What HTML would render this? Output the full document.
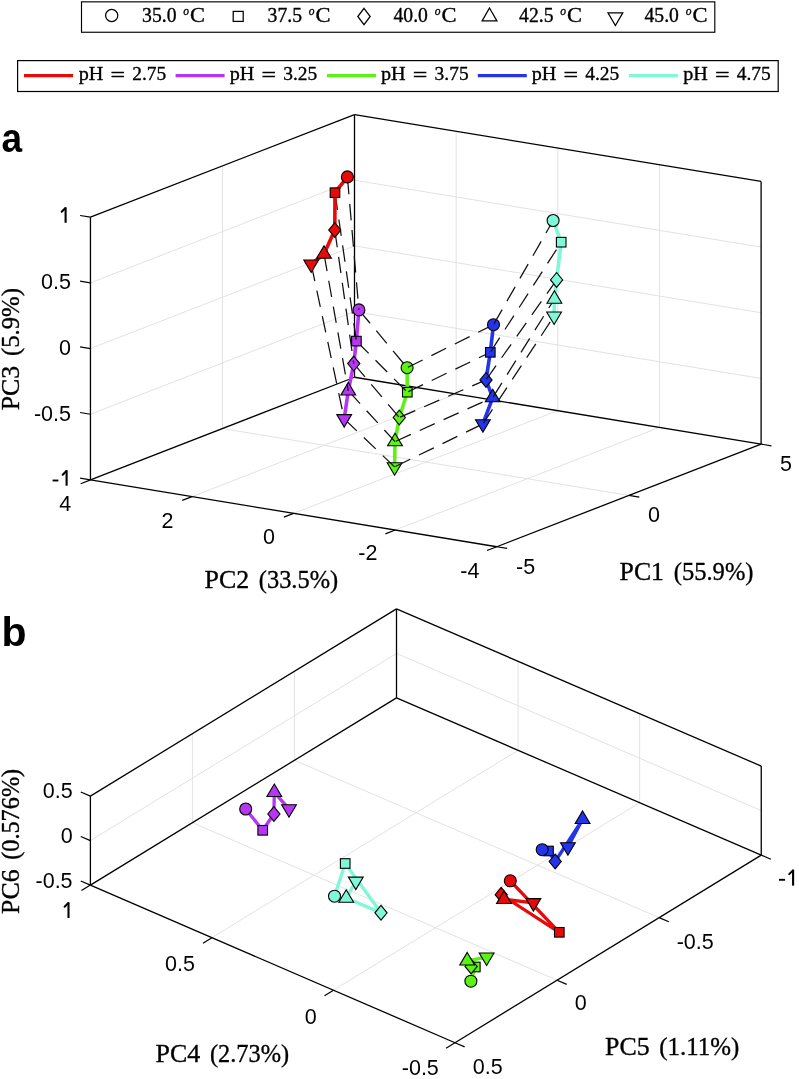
<!DOCTYPE html>
<html><head><meta charset="utf-8"><title>PCA figure</title>
<style>html,body{margin:0;padding:0;background:#fff;}body{width:799px;height:1079px;overflow:hidden;}svg{display:block;will-change:transform;}</style>
</head><body>
<svg width="799" height="1079" viewBox="0 0 799 1079">
<rect width="799" height="1079" fill="#fff"/>
<rect x="81.5" y="1.85" width="633.3" height="30.4" fill="#fff" stroke="#000" stroke-width="1.15"/>
<circle cx="111.7" cy="15.5" r="6.1" fill="none" stroke="#000" stroke-width="1.25"/>
<rect x="233.2" y="11.4" width="10" height="10" fill="none" stroke="#000" stroke-width="1.25"/>
<polygon points="364,8.4 370.2,16.5 364,24.6 357.8,16.5" fill="none" stroke="#000" stroke-width="1.25"/>
<polygon points="489.5,8.0 496.9,20.9 482.1,20.9" fill="none" stroke="#000" stroke-width="1.25"/>
<polygon points="608.0,12.9 622.8,12.9 615.4,25.6" fill="none" stroke="#000" stroke-width="1.25"/>
<text x="142.1" y="21.6" font-size="20" font-family='"Liberation Serif", serif' textLength="34.4" lengthAdjust="spacingAndGlyphs" stroke="#000" stroke-width="0.35">35.0</text>
<text x="183.3" y="14.9" font-size="11.5" font-style="italic" font-family='"Liberation Serif", serif' stroke="#000" stroke-width="0.3">o</text>
<text x="190.1" y="21.6" font-size="20" font-family='"Liberation Serif", serif' textLength="15" lengthAdjust="spacingAndGlyphs" stroke="#000" stroke-width="0.35">C</text>
<text x="267.6" y="21.6" font-size="20" font-family='"Liberation Serif", serif' textLength="34.4" lengthAdjust="spacingAndGlyphs" stroke="#000" stroke-width="0.35">37.5</text>
<text x="308.8" y="14.9" font-size="11.5" font-style="italic" font-family='"Liberation Serif", serif' stroke="#000" stroke-width="0.3">o</text>
<text x="315.6" y="21.6" font-size="20" font-family='"Liberation Serif", serif' textLength="15" lengthAdjust="spacingAndGlyphs" stroke="#000" stroke-width="0.35">C</text>
<text x="393.5" y="21.6" font-size="20" font-family='"Liberation Serif", serif' textLength="34.4" lengthAdjust="spacingAndGlyphs" stroke="#000" stroke-width="0.35">40.0</text>
<text x="434.7" y="14.9" font-size="11.5" font-style="italic" font-family='"Liberation Serif", serif' stroke="#000" stroke-width="0.3">o</text>
<text x="441.5" y="21.6" font-size="20" font-family='"Liberation Serif", serif' textLength="15" lengthAdjust="spacingAndGlyphs" stroke="#000" stroke-width="0.35">C</text>
<text x="519.1" y="21.6" font-size="20" font-family='"Liberation Serif", serif' textLength="34.4" lengthAdjust="spacingAndGlyphs" stroke="#000" stroke-width="0.35">42.5</text>
<text x="560.3" y="14.9" font-size="11.5" font-style="italic" font-family='"Liberation Serif", serif' stroke="#000" stroke-width="0.3">o</text>
<text x="567.1" y="21.6" font-size="20" font-family='"Liberation Serif", serif' textLength="15" lengthAdjust="spacingAndGlyphs" stroke="#000" stroke-width="0.35">C</text>
<text x="644.5" y="21.6" font-size="20" font-family='"Liberation Serif", serif' textLength="34.4" lengthAdjust="spacingAndGlyphs" stroke="#000" stroke-width="0.35">45.0</text>
<text x="685.7" y="14.9" font-size="11.5" font-style="italic" font-family='"Liberation Serif", serif' stroke="#000" stroke-width="0.3">o</text>
<text x="692.5" y="21.6" font-size="20" font-family='"Liberation Serif", serif' textLength="15" lengthAdjust="spacingAndGlyphs" stroke="#000" stroke-width="0.35">C</text>
<rect x="17.6" y="60.6" width="760.6" height="30.9" fill="#fff" stroke="#000" stroke-width="1.2"/>
<line x1="24" y1="75.6" x2="73" y2="75.6" stroke="#e80909" stroke-width="3.3"/>
<text x="78.7" y="80.4" font-size="19.2" font-family='"Liberation Serif", serif' textLength="24.6" lengthAdjust="spacingAndGlyphs" stroke="#000" stroke-width="0.35">pH</text>
<text x="110.5" y="81.3" font-size="19.2" font-family='"Liberation Serif", serif' textLength="14.6" lengthAdjust="spacingAndGlyphs" stroke="#000" stroke-width="0.35">=</text>
<text x="132.3" y="80.4" font-size="19.2" font-family='"Liberation Serif", serif' textLength="34" lengthAdjust="spacingAndGlyphs" stroke="#000" stroke-width="0.35">2.75</text>
<line x1="175.6" y1="75.6" x2="224.6" y2="75.6" stroke="#b636f4" stroke-width="3.3"/>
<text x="229.7" y="80.4" font-size="19.2" font-family='"Liberation Serif", serif' textLength="24.6" lengthAdjust="spacingAndGlyphs" stroke="#000" stroke-width="0.35">pH</text>
<text x="261.5" y="81.3" font-size="19.2" font-family='"Liberation Serif", serif' textLength="14.6" lengthAdjust="spacingAndGlyphs" stroke="#000" stroke-width="0.35">=</text>
<text x="283.3" y="80.4" font-size="19.2" font-family='"Liberation Serif", serif' textLength="34" lengthAdjust="spacingAndGlyphs" stroke="#000" stroke-width="0.35">3.25</text>
<line x1="327" y1="75.6" x2="376" y2="75.6" stroke="#5cf216" stroke-width="3.3"/>
<text x="381" y="80.4" font-size="19.2" font-family='"Liberation Serif", serif' textLength="24.6" lengthAdjust="spacingAndGlyphs" stroke="#000" stroke-width="0.35">pH</text>
<text x="412.8" y="81.3" font-size="19.2" font-family='"Liberation Serif", serif' textLength="14.6" lengthAdjust="spacingAndGlyphs" stroke="#000" stroke-width="0.35">=</text>
<text x="434.6" y="80.4" font-size="19.2" font-family='"Liberation Serif", serif' textLength="34" lengthAdjust="spacingAndGlyphs" stroke="#000" stroke-width="0.35">3.75</text>
<line x1="477.8" y1="75.6" x2="526.8" y2="75.6" stroke="#2334ea" stroke-width="3.3"/>
<text x="531.7" y="80.4" font-size="19.2" font-family='"Liberation Serif", serif' textLength="24.6" lengthAdjust="spacingAndGlyphs" stroke="#000" stroke-width="0.35">pH</text>
<text x="563.5" y="81.3" font-size="19.2" font-family='"Liberation Serif", serif' textLength="14.6" lengthAdjust="spacingAndGlyphs" stroke="#000" stroke-width="0.35">=</text>
<text x="585.3" y="80.4" font-size="19.2" font-family='"Liberation Serif", serif' textLength="34" lengthAdjust="spacingAndGlyphs" stroke="#000" stroke-width="0.35">4.25</text>
<line x1="628.9" y1="75.6" x2="677.9" y2="75.6" stroke="#7ff8d8" stroke-width="3.3"/>
<text x="683.2" y="80.4" font-size="19.2" font-family='"Liberation Serif", serif' textLength="24.6" lengthAdjust="spacingAndGlyphs" stroke="#000" stroke-width="0.35">pH</text>
<text x="715" y="81.3" font-size="19.2" font-family='"Liberation Serif", serif' textLength="14.6" lengthAdjust="spacingAndGlyphs" stroke="#000" stroke-width="0.35">=</text>
<text x="736.8" y="80.4" font-size="19.2" font-family='"Liberation Serif", serif' textLength="34" lengthAdjust="spacingAndGlyphs" stroke="#000" stroke-width="0.35">4.75</text>
<line x1="628.95" y1="495.43" x2="222.47" y2="428.57" stroke="#e2e2e2" stroke-width="1.0"/>
<line x1="192.04" y1="496.61" x2="456.15" y2="393.96" stroke="#e2e2e2" stroke-width="1.0"/>
<line x1="293.62" y1="513.33" x2="557.8" y2="410.68" stroke="#e2e2e2" stroke-width="1.0"/>
<line x1="395.21" y1="530.04" x2="659.45" y2="427.39" stroke="#e2e2e2" stroke-width="1.0"/>
<line x1="222.47" y1="428.57" x2="222.47" y2="165.88" stroke="#e2e2e2" stroke-width="1.0"/>
<line x1="90.45" y1="414.22" x2="354.5" y2="311.57" stroke="#e2e2e2" stroke-width="1.0"/>
<line x1="90.45" y1="348.55" x2="354.5" y2="245.9" stroke="#e2e2e2" stroke-width="1.0"/>
<line x1="90.45" y1="282.88" x2="354.5" y2="180.23" stroke="#e2e2e2" stroke-width="1.0"/>
<line x1="456.15" y1="393.96" x2="456.15" y2="131.26" stroke="#e2e2e2" stroke-width="1.0"/>
<line x1="557.8" y1="410.68" x2="557.8" y2="147.98" stroke="#e2e2e2" stroke-width="1.0"/>
<line x1="659.45" y1="427.39" x2="659.45" y2="164.69" stroke="#e2e2e2" stroke-width="1.0"/>
<line x1="761.1" y1="378.43" x2="354.5" y2="311.57" stroke="#e2e2e2" stroke-width="1.0"/>
<line x1="761.1" y1="312.75" x2="354.5" y2="245.9" stroke="#e2e2e2" stroke-width="1.0"/>
<line x1="761.1" y1="247.08" x2="354.5" y2="180.23" stroke="#e2e2e2" stroke-width="1.0"/>
<line x1="90.45" y1="479.9" x2="90.45" y2="217.2" stroke="#000" stroke-width="1.3"/>
<line x1="354.5" y1="377.25" x2="354.5" y2="114.55" stroke="#000" stroke-width="1.3"/>
<line x1="761.1" y1="444.1" x2="761.1" y2="181.4" stroke="#000" stroke-width="1.3"/>
<line x1="90.45" y1="217.2" x2="354.5" y2="114.55" stroke="#000" stroke-width="1.3"/>
<line x1="354.5" y1="114.55" x2="761.1" y2="181.4" stroke="#000" stroke-width="1.3"/>
<line x1="90.45" y1="479.9" x2="354.5" y2="377.25" stroke="#000" stroke-width="1.3"/>
<line x1="354.5" y1="377.25" x2="761.1" y2="444.1" stroke="#000" stroke-width="1.3"/>
<line x1="90.45" y1="479.9" x2="496.8" y2="546.75" stroke="#000" stroke-width="1.3"/>
<line x1="496.8" y1="546.75" x2="761.1" y2="444.1" stroke="#000" stroke-width="1.3"/>
<line x1="90.45" y1="479.9" x2="80.09" y2="478.2" stroke="#000" stroke-width="1.2"/>
<line x1="90.45" y1="414.22" x2="80.09" y2="412.52" stroke="#000" stroke-width="1.2"/>
<line x1="90.45" y1="348.55" x2="80.09" y2="346.85" stroke="#000" stroke-width="1.2"/>
<line x1="90.45" y1="282.88" x2="80.09" y2="281.17" stroke="#000" stroke-width="1.2"/>
<line x1="90.45" y1="217.2" x2="80.09" y2="215.5" stroke="#000" stroke-width="1.2"/>
<line x1="90.45" y1="479.9" x2="80.66" y2="483.7" stroke="#000" stroke-width="1.2"/>
<line x1="192.04" y1="496.61" x2="182.25" y2="500.41" stroke="#000" stroke-width="1.2"/>
<line x1="293.62" y1="513.33" x2="283.84" y2="517.13" stroke="#000" stroke-width="1.2"/>
<line x1="395.21" y1="530.04" x2="385.42" y2="533.84" stroke="#000" stroke-width="1.2"/>
<line x1="496.8" y1="546.75" x2="487.01" y2="550.55" stroke="#000" stroke-width="1.2"/>
<line x1="496.8" y1="546.75" x2="507.16" y2="548.45" stroke="#000" stroke-width="1.2"/>
<line x1="628.95" y1="495.43" x2="639.31" y2="497.13" stroke="#000" stroke-width="1.2"/>
<line x1="761.1" y1="444.1" x2="771.46" y2="445.8" stroke="#000" stroke-width="1.2"/>
<text x="71" y="289.18" font-size="21.5" font-family='"Liberation Sans", sans-serif' text-anchor="end">0.5</text>
<text x="71" y="354.85" font-size="21.5" font-family='"Liberation Sans", sans-serif' text-anchor="end">0</text>
<text x="71" y="420.52" font-size="21.5" font-family='"Liberation Sans", sans-serif' text-anchor="end">-0.5</text>
<line x1="65.6" y1="207.3" x2="65.6" y2="222.8" stroke="#000" stroke-width="2.1"/>
<line x1="65.2" y1="208.3" x2="61.7" y2="211.8" stroke="#000" stroke-width="2.0" stroke-linecap="round"/>
<line x1="66.6" y1="470.2" x2="66.6" y2="485.7" stroke="#000" stroke-width="2.1"/>
<line x1="66.2" y1="471.2" x2="62.7" y2="474.7" stroke="#000" stroke-width="2.0" stroke-linecap="round"/>
<line x1="52.6" y1="480.5" x2="58.4" y2="480.5" stroke="#000" stroke-width="1.9"/>
<text x="65.2" y="510.7" font-size="21.5" font-family='"Liberation Sans", sans-serif' text-anchor="middle">4</text>
<text x="167.4" y="527.5" font-size="21.5" font-family='"Liberation Sans", sans-serif' text-anchor="middle">2</text>
<text x="269.1" y="543.7" font-size="21.5" font-family='"Liberation Sans", sans-serif' text-anchor="middle">0</text>
<text x="367.9" y="560.3" font-size="21.5" font-family='"Liberation Sans", sans-serif' text-anchor="middle">-2</text>
<text x="469.8" y="577.8" font-size="21.5" font-family='"Liberation Sans", sans-serif' text-anchor="middle">-4</text>
<text x="525.6" y="574.1" font-size="21.5" font-family='"Liberation Sans", sans-serif' text-anchor="middle">-5</text>
<text x="654" y="521.8" font-size="21.5" font-family='"Liberation Sans", sans-serif' text-anchor="middle">0</text>
<text x="786" y="470.6" font-size="21.5" font-family='"Liberation Sans", sans-serif' text-anchor="middle">5</text>
<text x="204.6" y="588.4" font-size="25.5" font-family='"Liberation Serif", serif' textLength="44.6" lengthAdjust="spacingAndGlyphs" stroke="#000" stroke-width="0.35">PC2</text>
<text x="258.8" y="588.4" font-size="25.5" font-family='"Liberation Serif", serif' textLength="79.3" lengthAdjust="spacingAndGlyphs" stroke="#000" stroke-width="0.35">(33.5%)</text>
<text x="619.6" y="579.5" font-size="25.5" font-family='"Liberation Serif", serif' textLength="44.4" lengthAdjust="spacingAndGlyphs" stroke="#000" stroke-width="0.35">PC1</text>
<text x="673.8" y="579.5" font-size="25.5" font-family='"Liberation Serif", serif' textLength="79.7" lengthAdjust="spacingAndGlyphs" stroke="#000" stroke-width="0.35">(55.9%)</text>
<g transform="translate(18.8,409.9) rotate(-90)">
<text x="-0.4" y="0" font-size="25.5" font-family='"Liberation Serif", serif' textLength="44.6" lengthAdjust="spacingAndGlyphs" stroke="#000" stroke-width="0.35">PC3</text>
<text x="53.8" y="0" font-size="25.5" font-family='"Liberation Serif", serif' textLength="68" lengthAdjust="spacingAndGlyphs" stroke="#000" stroke-width="0.35">(5.9%)</text>
</g>
<text x="1.4" y="151.9" font-size="41" font-family='"Liberation Sans", sans-serif' font-weight="bold" textLength="20.6" lengthAdjust="spacingAndGlyphs">a</text>
<polyline points="407.1,367.7 407.3,392.2 399.3,417.5 395,441.58 394.6,466.92" fill="none" stroke="#5cf216" stroke-width="3.6" stroke-linejoin="round"/>
<circle cx="407.1" cy="367.7" r="6" fill="#5cf216" stroke="#000" stroke-width="1.1"/>
<rect x="402.5" y="387.4" width="9.6" height="9.6" fill="#5cf216" stroke="#000" stroke-width="1.1"/>
<polygon points="399.3,410.1 405.4,417.5 399.3,424.9 393.2,417.5" fill="#5cf216" stroke="#000" stroke-width="1.1"/>
<polygon points="395,433.25 402.4,445.75 387.6,445.75" fill="#5cf216" stroke="#000" stroke-width="1.1"/>
<polygon points="387.2,462.75 402,462.75 394.6,475.25" fill="#5cf216" stroke="#000" stroke-width="1.1"/>
<line x1="358.9" y1="309.9" x2="407.1" y2="367.7" stroke="#111" stroke-width="1.25" stroke-dasharray="16.5 9.7" stroke-dashoffset="-0.9"/>
<line x1="356.4" y1="341.1" x2="407.3" y2="392.2" stroke="#111" stroke-width="1.25" stroke-dasharray="16.5 9.7" stroke-dashoffset="-0.9"/>
<line x1="353.75" y1="363.6" x2="399.3" y2="417.5" stroke="#111" stroke-width="1.25" stroke-dasharray="16.5 9.7" stroke-dashoffset="-0.9"/>
<line x1="348.3" y1="390.78" x2="395" y2="441.58" stroke="#111" stroke-width="1.25" stroke-dasharray="16.5 9.7" stroke-dashoffset="-0.9"/>
<line x1="344.2" y1="418.82" x2="394.6" y2="466.92" stroke="#111" stroke-width="1.25" stroke-dasharray="16.5 9.7" stroke-dashoffset="-0.9"/>
<line x1="407.1" y1="367.7" x2="493.5" y2="324.7" stroke="#111" stroke-width="1.25" stroke-dasharray="16.5 9.7" stroke-dashoffset="-0.9"/>
<line x1="407.3" y1="392.2" x2="490.3" y2="352.3" stroke="#111" stroke-width="1.25" stroke-dasharray="16.5 9.7" stroke-dashoffset="-0.9"/>
<line x1="399.3" y1="417.5" x2="486" y2="379.9" stroke="#111" stroke-width="1.25" stroke-dasharray="16.5 9.7" stroke-dashoffset="-0.9"/>
<line x1="395" y1="441.58" x2="492.7" y2="397.58" stroke="#111" stroke-width="1.25" stroke-dasharray="16.5 9.7" stroke-dashoffset="-0.9"/>
<line x1="394.6" y1="466.92" x2="482.9" y2="423.92" stroke="#111" stroke-width="1.25" stroke-dasharray="16.5 9.7" stroke-dashoffset="-0.9"/>
<polyline points="493.5,324.7 490.3,352.3 486,379.9 492.7,397.58 482.9,423.92" fill="none" stroke="#2334ea" stroke-width="3.6" stroke-linejoin="round"/>
<circle cx="493.5" cy="324.7" r="6" fill="#2334ea" stroke="#000" stroke-width="1.1"/>
<rect x="485.5" y="347.5" width="9.6" height="9.6" fill="#2334ea" stroke="#000" stroke-width="1.1"/>
<polygon points="486,372.5 492.1,379.9 486,387.3 479.9,379.9" fill="#2334ea" stroke="#000" stroke-width="1.1"/>
<polygon points="492.7,389.25 500.1,401.75 485.3,401.75" fill="#2334ea" stroke="#000" stroke-width="1.1"/>
<polygon points="475.5,419.75 490.3,419.75 482.9,432.25" fill="#2334ea" stroke="#000" stroke-width="1.1"/>
<line x1="493.5" y1="324.7" x2="553.1" y2="220.5" stroke="#111" stroke-width="1.25" stroke-dasharray="16.5 9.7" stroke-dashoffset="-0.9"/>
<line x1="490.3" y1="352.3" x2="561.2" y2="242.2" stroke="#111" stroke-width="1.25" stroke-dasharray="16.5 9.7" stroke-dashoffset="-0.9"/>
<line x1="486" y1="379.9" x2="556.6" y2="279.9" stroke="#111" stroke-width="1.25" stroke-dasharray="16.5 9.7" stroke-dashoffset="-0.9"/>
<line x1="492.7" y1="397.58" x2="554.4" y2="299.08" stroke="#111" stroke-width="1.25" stroke-dasharray="16.5 9.7" stroke-dashoffset="-0.9"/>
<line x1="482.9" y1="423.92" x2="554.1" y2="316.12" stroke="#111" stroke-width="1.25" stroke-dasharray="16.5 9.7" stroke-dashoffset="-0.9"/>
<polyline points="358.9,309.9 356.4,341.1 353.75,363.6 348.3,390.78 344.2,418.82" fill="none" stroke="#b636f4" stroke-width="3.6" stroke-linejoin="round"/>
<circle cx="358.9" cy="309.9" r="6" fill="#b636f4" stroke="#000" stroke-width="1.1"/>
<rect x="351.6" y="336.3" width="9.6" height="9.6" fill="#b636f4" stroke="#000" stroke-width="1.1"/>
<polygon points="353.75,356.2 359.85,363.6 353.75,371 347.65,363.6" fill="#b636f4" stroke="#000" stroke-width="1.1"/>
<polygon points="348.3,382.45 355.7,394.95 340.9,394.95" fill="#b636f4" stroke="#000" stroke-width="1.1"/>
<polygon points="336.8,414.65 351.6,414.65 344.2,427.15" fill="#b636f4" stroke="#000" stroke-width="1.1"/>
<line x1="347.4" y1="176.9" x2="358.9" y2="309.9" stroke="#111" stroke-width="1.25" stroke-dasharray="16.5 9.7" stroke-dashoffset="-0.9"/>
<line x1="335" y1="192.7" x2="356.4" y2="341.1" stroke="#111" stroke-width="1.25" stroke-dasharray="16.5 9.7" stroke-dashoffset="-0.9"/>
<line x1="334.8" y1="230" x2="353.75" y2="363.6" stroke="#111" stroke-width="1.25" stroke-dasharray="16.5 9.7" stroke-dashoffset="-0.9"/>
<line x1="324" y1="254.08" x2="348.3" y2="390.78" stroke="#111" stroke-width="1.25" stroke-dasharray="16.5 9.7" stroke-dashoffset="-0.9"/>
<line x1="311.2" y1="264.12" x2="344.2" y2="418.82" stroke="#111" stroke-width="1.25" stroke-dasharray="16.5 9.7" stroke-dashoffset="-0.9"/>
<polyline points="347.4,176.9 335,192.7 334.8,230 324,254.08 311.2,264.12" fill="none" stroke="#e80909" stroke-width="3.6" stroke-linejoin="round"/>
<circle cx="347.4" cy="176.9" r="6" fill="#e80909" stroke="#000" stroke-width="1.1"/>
<rect x="330.2" y="187.9" width="9.6" height="9.6" fill="#e80909" stroke="#000" stroke-width="1.1"/>
<polygon points="334.8,222.6 340.9,230 334.8,237.4 328.7,230" fill="#e80909" stroke="#000" stroke-width="1.1"/>
<polygon points="324,245.75 331.4,258.25 316.6,258.25" fill="#e80909" stroke="#000" stroke-width="1.1"/>
<polygon points="303.8,259.95 318.6,259.95 311.2,272.45" fill="#e80909" stroke="#000" stroke-width="1.1"/>
<polyline points="553.1,220.5 561.2,242.2 556.6,279.9 554.4,299.08 554.1,316.12" fill="none" stroke="#7ff8d8" stroke-width="3.6" stroke-linejoin="round"/>
<circle cx="553.1" cy="220.5" r="6" fill="#7ff8d8" stroke="#000" stroke-width="1.1"/>
<rect x="556.4" y="237.4" width="9.6" height="9.6" fill="#7ff8d8" stroke="#000" stroke-width="1.1"/>
<polygon points="556.6,272.5 562.7,279.9 556.6,287.3 550.5,279.9" fill="#7ff8d8" stroke="#000" stroke-width="1.1"/>
<polygon points="554.4,290.75 561.8,303.25 547,303.25" fill="#7ff8d8" stroke="#000" stroke-width="1.1"/>
<polygon points="546.7,311.95 561.5,311.95 554.1,324.45" fill="#7ff8d8" stroke="#000" stroke-width="1.1"/>
<line x1="211.93" y1="937.65" x2="518.08" y2="750.3" stroke="#e2e2e2" stroke-width="1.0"/>
<line x1="333.47" y1="990.2" x2="639.67" y2="802.7" stroke="#e2e2e2" stroke-width="1.0"/>
<line x1="192.43" y1="822.7" x2="557.08" y2="980.2" stroke="#e2e2e2" stroke-width="1.0"/>
<line x1="294.47" y1="760.3" x2="659.17" y2="917.65" stroke="#e2e2e2" stroke-width="1.0"/>
<line x1="192.43" y1="822.7" x2="192.43" y2="733.7" stroke="#e2e2e2" stroke-width="1.0"/>
<line x1="294.47" y1="760.3" x2="294.47" y2="671.3" stroke="#e2e2e2" stroke-width="1.0"/>
<line x1="90.4" y1="840.6" x2="396.5" y2="653.4" stroke="#e2e2e2" stroke-width="1.0"/>
<line x1="518.08" y1="750.3" x2="518.08" y2="661.3" stroke="#e2e2e2" stroke-width="1.0"/>
<line x1="639.67" y1="802.7" x2="639.67" y2="713.7" stroke="#e2e2e2" stroke-width="1.0"/>
<line x1="396.5" y1="653.4" x2="761.25" y2="810.6" stroke="#e2e2e2" stroke-width="1.0"/>
<line x1="90.4" y1="885.1" x2="90.4" y2="796.1" stroke="#000" stroke-width="1.3"/>
<line x1="396.5" y1="697.9" x2="396.5" y2="608.9" stroke="#000" stroke-width="1.3"/>
<line x1="761.25" y1="855.1" x2="761.25" y2="766.1" stroke="#000" stroke-width="1.3"/>
<line x1="90.4" y1="796.1" x2="396.5" y2="608.9" stroke="#000" stroke-width="1.3"/>
<line x1="396.5" y1="608.9" x2="761.25" y2="766.1" stroke="#000" stroke-width="1.3"/>
<line x1="90.4" y1="885.1" x2="396.5" y2="697.9" stroke="#000" stroke-width="1.3"/>
<line x1="396.5" y1="697.9" x2="761.25" y2="855.1" stroke="#000" stroke-width="1.3"/>
<line x1="90.4" y1="885.1" x2="455" y2="1042.75" stroke="#000" stroke-width="1.3"/>
<line x1="455" y1="1042.75" x2="761.25" y2="855.1" stroke="#000" stroke-width="1.3"/>
<line x1="90.4" y1="885.1" x2="80.76" y2="880.93" stroke="#000" stroke-width="1.2"/>
<line x1="90.4" y1="840.6" x2="80.76" y2="836.43" stroke="#000" stroke-width="1.2"/>
<line x1="90.4" y1="796.1" x2="80.76" y2="791.93" stroke="#000" stroke-width="1.2"/>
<line x1="90.4" y1="885.1" x2="81.45" y2="890.59" stroke="#000" stroke-width="1.2"/>
<line x1="211.93" y1="937.65" x2="202.98" y2="943.14" stroke="#000" stroke-width="1.2"/>
<line x1="333.47" y1="990.2" x2="324.51" y2="995.69" stroke="#000" stroke-width="1.2"/>
<line x1="455" y1="1042.75" x2="446.05" y2="1048.24" stroke="#000" stroke-width="1.2"/>
<line x1="455" y1="1042.75" x2="464.64" y2="1046.92" stroke="#000" stroke-width="1.2"/>
<line x1="557.08" y1="980.2" x2="566.72" y2="984.37" stroke="#000" stroke-width="1.2"/>
<line x1="659.17" y1="917.65" x2="668.8" y2="921.82" stroke="#000" stroke-width="1.2"/>
<line x1="761.25" y1="855.1" x2="770.89" y2="859.27" stroke="#000" stroke-width="1.2"/>
<text x="72.6" y="798.3" font-size="21.5" font-family='"Liberation Sans", sans-serif' text-anchor="end">0.5</text>
<text x="72.6" y="842.8" font-size="21.5" font-family='"Liberation Sans", sans-serif' text-anchor="end">0</text>
<text x="72.6" y="887.6" font-size="21.5" font-family='"Liberation Sans", sans-serif' text-anchor="end">-0.5</text>
<line x1="68.5" y1="902.3" x2="68.5" y2="918" stroke="#000" stroke-width="2.1"/>
<line x1="68.1" y1="903.3" x2="64.6" y2="906.8" stroke="#000" stroke-width="2.0" stroke-linecap="round"/>
<line x1="793.1" y1="869.6" x2="793.1" y2="885.6" stroke="#000" stroke-width="2.1"/>
<line x1="792.7" y1="870.6" x2="789.2" y2="874.1" stroke="#000" stroke-width="2.0" stroke-linecap="round"/>
<line x1="779" y1="879.8" x2="785.1" y2="879.8" stroke="#000" stroke-width="1.9"/>
<text x="180" y="971.2" font-size="21.5" font-family='"Liberation Sans", sans-serif' text-anchor="middle">0.5</text>
<text x="310.8" y="1023.8" font-size="21.5" font-family='"Liberation Sans", sans-serif' text-anchor="middle">0</text>
<text x="420.3" y="1075.1" font-size="21.5" font-family='"Liberation Sans", sans-serif' text-anchor="middle">-0.5</text>
<text x="487.7" y="1073.8" font-size="21.5" font-family='"Liberation Sans", sans-serif' text-anchor="middle">0.5</text>
<text x="580.8" y="1010.1" font-size="21.5" font-family='"Liberation Sans", sans-serif' text-anchor="middle">0</text>
<text x="695.2" y="948.6" font-size="21.5" font-family='"Liberation Sans", sans-serif' text-anchor="middle">-0.5</text>
<text x="155.6" y="1062" font-size="25.5" font-family='"Liberation Serif", serif' textLength="44.7" lengthAdjust="spacingAndGlyphs" stroke="#000" stroke-width="0.35">PC4</text>
<text x="209.9" y="1062" font-size="25.5" font-family='"Liberation Serif", serif' textLength="79.2" lengthAdjust="spacingAndGlyphs" stroke="#000" stroke-width="0.35">(2.73%)</text>
<text x="605.1" y="1054.9" font-size="25.5" font-family='"Liberation Serif", serif' textLength="44.6" lengthAdjust="spacingAndGlyphs" stroke="#000" stroke-width="0.35">PC5</text>
<text x="659.3" y="1054.9" font-size="25.5" font-family='"Liberation Serif", serif' textLength="80" lengthAdjust="spacingAndGlyphs" stroke="#000" stroke-width="0.35">(1.11%)</text>
<g transform="translate(19,913.6) rotate(-90)">
<text x="-0.4" y="0" font-size="25.5" font-family='"Liberation Serif", serif' textLength="44.6" lengthAdjust="spacingAndGlyphs" stroke="#000" stroke-width="0.35">PC6</text>
<text x="53.8" y="0" font-size="25.5" font-family='"Liberation Serif", serif' textLength="91" lengthAdjust="spacingAndGlyphs" stroke="#000" stroke-width="0.35">(0.576%)</text>
</g>
<text x="1.5" y="645.5" font-size="41" font-family='"Liberation Sans", sans-serif' font-weight="bold">b</text>
<polyline points="245.7,809 262.7,830.3 273.9,814 274.3,792.38 289,808.92" fill="none" stroke="#b636f4" stroke-width="3.3" stroke-linejoin="round"/>
<circle cx="245.7" cy="809" r="6" fill="#b636f4" stroke="#000" stroke-width="1.1"/>
<rect x="257.9" y="825.5" width="9.6" height="9.6" fill="#b636f4" stroke="#000" stroke-width="1.1"/>
<polygon points="273.9,806.6 280,814 273.9,821.4 267.8,814" fill="#b636f4" stroke="#000" stroke-width="1.1"/>
<polygon points="274.3,784.05 281.7,796.55 266.9,796.55" fill="#b636f4" stroke="#000" stroke-width="1.1"/>
<polygon points="281.6,804.75 296.4,804.75 289,817.25" fill="#b636f4" stroke="#000" stroke-width="1.1"/>
<polyline points="334.5,896.2 345.2,863.5 381,912.8 346.2,898.08 355.8,881.32" fill="none" stroke="#7ff8d8" stroke-width="3.3" stroke-linejoin="round"/>
<circle cx="334.5" cy="896.2" r="6" fill="#7ff8d8" stroke="#000" stroke-width="1.1"/>
<rect x="340.4" y="858.7" width="9.6" height="9.6" fill="#7ff8d8" stroke="#000" stroke-width="1.1"/>
<polygon points="381,905.4 387.1,912.8 381,920.2 374.9,912.8" fill="#7ff8d8" stroke="#000" stroke-width="1.1"/>
<polygon points="346.2,889.75 353.6,902.25 338.8,902.25" fill="#7ff8d8" stroke="#000" stroke-width="1.1"/>
<polygon points="348.4,877.15 363.2,877.15 355.8,889.65" fill="#7ff8d8" stroke="#000" stroke-width="1.1"/>
<polyline points="542.2,849.7 548.5,851 555.2,861.5 582.6,819.28 567.9,846.92" fill="none" stroke="#2334ea" stroke-width="3.3" stroke-linejoin="round"/>
<rect x="543.7" y="846.2" width="9.6" height="9.6" fill="#2334ea" stroke="#000" stroke-width="1.1"/>
<circle cx="542.2" cy="849.7" r="6" fill="#2334ea" stroke="#000" stroke-width="1.1"/>
<polygon points="555.2,854.1 561.3,861.5 555.2,868.9 549.1,861.5" fill="#2334ea" stroke="#000" stroke-width="1.1"/>
<polygon points="582.6,810.95 590,823.45 575.2,823.45" fill="#2334ea" stroke="#000" stroke-width="1.1"/>
<polygon points="560.5,842.75 575.3,842.75 567.9,855.25" fill="#2334ea" stroke="#000" stroke-width="1.1"/>
<polyline points="510.3,880.8 559.3,932.3 501.2,894.7 504,899.28 533.4,902.82" fill="none" stroke="#e80909" stroke-width="3.3" stroke-linejoin="round"/>
<circle cx="510.3" cy="880.8" r="6" fill="#e80909" stroke="#000" stroke-width="1.1"/>
<rect x="554.5" y="927.5" width="9.6" height="9.6" fill="#e80909" stroke="#000" stroke-width="1.1"/>
<polygon points="501.2,887.3 507.3,894.7 501.2,902.1 495.1,894.7" fill="#e80909" stroke="#000" stroke-width="1.1"/>
<polygon points="504,890.95 511.4,903.45 496.6,903.45" fill="#e80909" stroke="#000" stroke-width="1.1"/>
<polygon points="526,898.65 540.8,898.65 533.4,911.15" fill="#e80909" stroke="#000" stroke-width="1.1"/>
<polyline points="470.9,981.2 475.3,967 471.1,966.4 467.2,960.78 486.6,957.12" fill="none" stroke="#5cf216" stroke-width="3.3" stroke-linejoin="round"/>
<circle cx="470.9" cy="981.2" r="6" fill="#5cf216" stroke="#000" stroke-width="1.1"/>
<rect x="470.5" y="962.2" width="9.6" height="9.6" fill="#5cf216" stroke="#000" stroke-width="1.1"/>
<polygon points="471.1,959 477.2,966.4 471.1,973.8 465,966.4" fill="#5cf216" stroke="#000" stroke-width="1.1"/>
<polygon points="467.2,952.45 474.6,964.95 459.8,964.95" fill="#5cf216" stroke="#000" stroke-width="1.1"/>
<polygon points="479.2,952.95 494,952.95 486.6,965.45" fill="#5cf216" stroke="#000" stroke-width="1.1"/>
</svg>
</body></html>
